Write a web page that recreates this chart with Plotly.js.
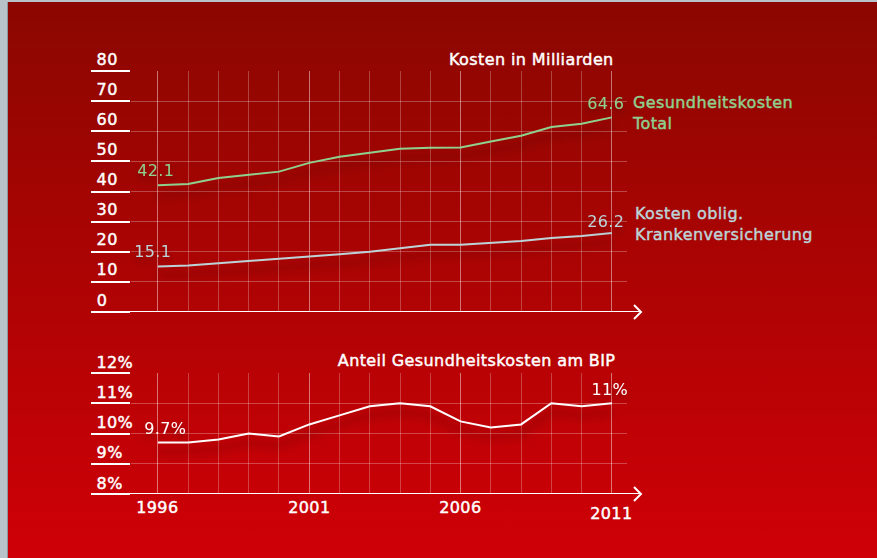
<!DOCTYPE html>
<html><head><meta charset="utf-8">
<script src="https://cdn.plot.ly/plotly-3.0.1.min.js"></script>
<style>
html,body{margin:0;padding:0;width:877px;height:558px;overflow:hidden;background:#b7c2c9;}
#bg{position:absolute;left:8px;top:2px;width:869px;height:556px;background:linear-gradient(#8b0700,#cf0007);box-shadow:-1px 0 0 #8d969c;}
#chart{position:absolute;left:0;top:0;width:877px;height:558px;}
#chart text.annotation-text{letter-spacing:0.4px;}
</style></head><body><div id="bg"></div><div id="chart"></div>
<script>
// ---- data ----
const years = [1996,1997,1998,1999,2000,2001,2002,2003,2004,2005,2006,2007,2008,2009,2010,2011];
const totalCosts = [42.1,42.5,44.5,45.5,46.6,49.5,51.5,52.9,54.2,54.5,54.6,56.6,58.5,61.4,62.5,64.6];
const okpCosts   = [15.1,15.4,16.2,16.9,17.6,18.4,19.2,20.0,21.2,22.3,22.3,23.0,23.6,24.6,25.2,26.2];
const bipShare   = [9.7,9.7,9.8,10.0,9.9,10.3,10.6,10.9,11.0,10.9,10.4,10.2,10.3,11.0,10.9,11.0];
const topTicks = [0,10,20,30,40,50,60,70,80];
const bottomTicks = [8,9,10,11,12];
const bottomTickLabels = ['8%','9%','10%','11%','12%'];
const xTickVals = [1996,2001,2006,2011];
const xTickLabels = ['1996','2001','2006','2011'];
const totalName = 'Gesundheitskosten<br>Total';
const okpName = 'Kosten oblig.<br>Krankenversicherung';
const topTitle = 'Kosten in Milliarden';
const bottomTitle = 'Anteil Gesundheitskosten am BIP';

// ---- layout helpers ----
const W = 877, H = 558;
const px = v => v / W;
const py = v => 1 - v / H;
const FONT = '"DejaVu Sans", sans-serif';
const GREEN = '#8fd08f', BLUE = '#bcd3d8', WHITE = '#ffffff';
const FS = 16;

const traces = [
  {x: years, y: totalCosts, xaxis: 'x', yaxis: 'y', mode: 'lines', line: {color: GREEN, width: 2}, hoverinfo: 'skip'},
  {x: years, y: okpCosts, xaxis: 'x', yaxis: 'y', mode: 'lines', line: {color: BLUE, width: 2}, hoverinfo: 'skip'},
  {x: years, y: bipShare, xaxis: 'x2', yaxis: 'y2', mode: 'lines', line: {color: WHITE, width: 2}, hoverinfo: 'skip'}
];

const xCommon = {
  domain: [px(131), px(627)], range: [1995.11, 2011.5],
  tick0: 1996, dtick: 5, showgrid: true, gridcolor: 'rgba(255,255,255,0.45)', gridwidth: 1,
  minor: {tick0: 1996, dtick: 1, showgrid: true, gridcolor: 'rgba(255,255,255,0.25)', gridwidth: 1},
  showticklabels: false, ticks: '', zeroline: false, showline: false, fixedrange: true
};
const yCommon = {
  ticks: 'outside', ticklen: 39, tickwidth: 2, tickcolor: WHITE,
  showticklabels: false, showgrid: true, gridcolor: 'rgba(255,255,255,0.27)', gridwidth: 1,
  zeroline: false, showline: false, fixedrange: true
};

const annotations = [];
const shadowIdx = [];
const tf = (size, color) => ({family: FONT, size: size, color: color});

topTicks.forEach(t => annotations.push({xref: 'paper', yref: 'y', x: px(95), y: t, xanchor: 'left', yanchor: 'middle', yshift: 12, text: String(t), showarrow: false, font: tf(FS, WHITE)}));
bottomTicks.forEach((t, i) => annotations.push({xref: 'paper', yref: 'y2', x: px(95), y: t, xanchor: 'left', yanchor: 'middle', yshift: 11, text: bottomTickLabels[i], showarrow: false, font: tf(FS, WHITE)}));
xTickVals.forEach((t, i) => annotations.push({xref: 'x2', yref: 'y2', x: t, y: 8, xanchor: 'center', yanchor: 'middle', yshift: i === xTickVals.length - 1 ? -19 : -13, text: xTickLabels[i], showarrow: false, font: tf(FS, WHITE)}));

annotations.push({xref: 'paper', yref: 'paper', x: px(612), y: py(59), xanchor: 'right', yanchor: 'middle', text: topTitle, showarrow: false, font: tf(FS, WHITE)});
annotations.push({xref: 'paper', yref: 'paper', x: px(612), y: py(360), xanchor: 'right', yanchor: 'middle', text: bottomTitle, showarrow: false, font: tf(FS, WHITE)});

const last = years.length - 1;
const valLabel = (xr, yr, i, arr, color, xs, ys, suffix) => {
  shadowIdx.push(annotations.length);
  return {xref: xr, yref: yr, x: years[i], y: arr[i], xanchor: 'center', yanchor: 'middle', xshift: xs, yshift: ys, text: arr[i].toFixed(i === last && suffix ? 0 : 1) + (suffix || ''), showarrow: false, font: tf(FS, color)};
};
annotations.push(valLabel('x', 'y', 0, totalCosts, GREEN, -2, 15));
annotations.push(valLabel('x', 'y', last, totalCosts, GREEN, -6, 14));
annotations.push(valLabel('x', 'y', 0, okpCosts, BLUE, -5, 15));
annotations.push(valLabel('x', 'y', last, okpCosts, BLUE, -6, 12));
annotations.push(valLabel('x2', 'y2', 0, bipShare, WHITE, 8, 14, '%'));
annotations.push(valLabel('x2', 'y2', last, bipShare, WHITE, -2, 14, '%'));
annotations.push({xref: 'paper', yref: 'y', x: px(630), y: totalCosts[last], xanchor: 'left', yanchor: 'middle', yshift: 4, align: 'left', text: totalName, showarrow: false, font: tf(FS, GREEN)});
annotations.push({xref: 'paper', yref: 'y', x: px(633), y: okpCosts[last], xanchor: 'left', yanchor: 'middle', yshift: 9, align: 'left', text: okpName, showarrow: false, font: tf(FS, BLUE)});

const axisShapes = (yref, yv, ypx) => [
  {type: 'line', xref: 'paper', yref: yref, x0: px(92), x1: px(641), y0: yv, y1: yv, line: {color: WHITE, width: 2}},
  {type: 'path', xref: 'paper', yref: 'paper', path: `M ${px(634)} ${py(ypx - 7)} L ${px(641)} ${py(ypx)} L ${px(634)} ${py(ypx + 7)}`, line: {color: WHITE, width: 2}}
];

const layout = {
  width: W, height: H, margin: {l: 0, r: 0, t: 0, b: 0},
  paper_bgcolor: 'rgba(0,0,0,0)', plot_bgcolor: 'rgba(0,0,0,0)', showlegend: false,
  xaxis: Object.assign({}, xCommon, {anchor: 'y'}),
  yaxis: Object.assign({}, yCommon, {domain: [py(312), py(71)], range: [0, 80], tickvals: topTicks, anchor: 'x'}),
  xaxis2: Object.assign({}, xCommon, {anchor: 'y2'}),
  yaxis2: Object.assign({}, yCommon, {domain: [py(494), py(373)], range: [8, 12], tickvals: bottomTicks, anchor: 'x2'}),
  annotations: annotations,
  shapes: axisShapes('y', 0, 312).concat(axisShapes('y2', 8, 494))
};

Plotly.newPlot('chart', traces, layout, {staticPlot: true}).then(gd => {
  const svg = gd.querySelector('svg.main-svg');
  const ns = 'http://www.w3.org/2000/svg';
  let defs = svg.querySelector('defs');
  if (!defs) { defs = document.createElementNS(ns, 'defs'); svg.insertBefore(defs, svg.firstChild); }
  defs.insertAdjacentHTML('beforeend',
    '<filter id="shd" x="-20%" y="-50%" width="140%" height="300%"><feGaussianBlur in="SourceAlpha" stdDeviation="4"/><feOffset dx="0" dy="9" result="b"/><feFlood flood-color="#3a0000" flood-opacity="0.55"/><feComposite in2="b" operator="in"/><feMerge><feMergeNode/><feMergeNode in="SourceGraphic"/></feMerge></filter>' +
    '<filter id="tshd" x="-30%" y="-50%" width="160%" height="250%"><feGaussianBlur in="SourceAlpha" stdDeviation="3"/><feOffset dx="0" dy="4" result="b"/><feFlood flood-color="#3a0000" flood-opacity="0.45"/><feComposite in2="b" operator="in"/><feMerge><feMergeNode/><feMergeNode in="SourceGraphic"/></feMerge></filter>');
  gd.querySelectorAll('.scatterlayer .trace path.js-line').forEach(p => p.setAttribute('filter', 'url(#shd)'));
  const annGroups = gd.querySelectorAll('.annotation');
  annGroups.forEach((g, i) => {
    const idx = g.getAttribute('data-index') !== null ? +g.getAttribute('data-index') : i;
    const t = g.querySelector('text.annotation-text');
    if (!t) return;
    if (shadowIdx.indexOf(idx) >= 0) {
      g.setAttribute('filter', 'url(#tshd)');
    } else {
      t.style.stroke = t.style.fill; t.style.strokeWidth = '0.45px';
    }
  });
});
</script></body></html>
